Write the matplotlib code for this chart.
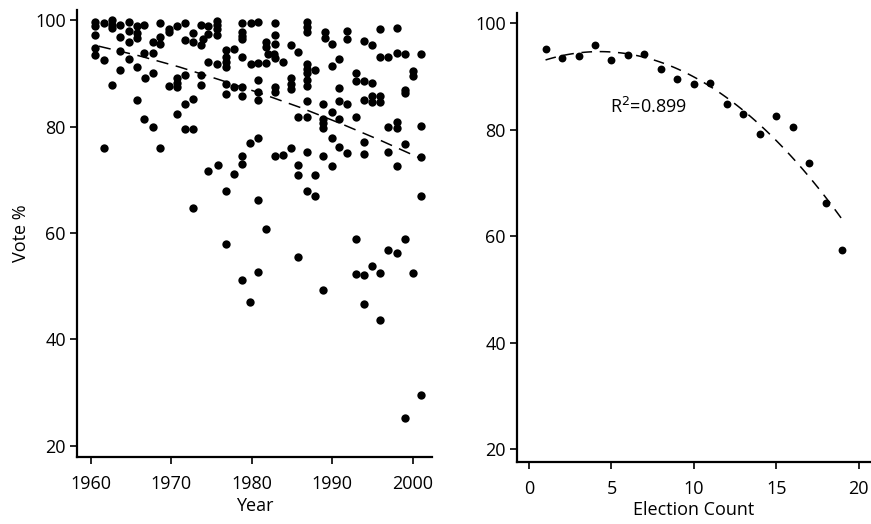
import numpy as np
import matplotlib.pyplot as plt

plt.rcParams['font.family'] = ['Open Sans', 'DejaVu Sans']

# left panel: vote % of each election, by year
years = [
    1960.5, 1960.5, 1960.5, 1961.6, 1962.6, 1962.6, 1962.6, 1963.6, 1964.7, 1964.7,
    1965.7, 1965.7, 1965.7, 1966.6, 1968.6, 1969.7, 1963.6, 1964.7, 1967.7, 1968.6,
    1968.6, 1960.5, 1960.5, 1961.6, 1963.6, 1964.7, 1966.6, 1967.7, 1963.7, 1965.7,
    1966.7, 1967.7, 1962.6, 1969.7, 1965.7, 1966.6, 1967.7, 1961.6, 1968.6,
    1969.7, 1970.7, 1971.7, 1971.7, 1972.7, 1972.7, 1973.7, 1973.7, 1974.6, 1974.6,
    1974.0, 1975.7, 1975.7, 1975.7, 1975.7, 1978.8, 1978.8, 1978.8, 1978.8, 1979.9,
    1976.8, 1976.8, 1976.8, 1976.8, 1977.8, 1978.8, 1979.9, 1974.6, 1975.7, 1970.7,
    1970.7, 1970.7, 1971.7, 1973.7, 1973.7, 1976.8, 1976.8, 1977.8, 1978.8, 1978.8,
    1972.7, 1971.7, 1970.7, 1971.7, 1972.7, 1979.8, 1978.8, 1978.8, 1975.8, 1974.6,
    1977.8,
    1980.8, 1982.9, 1986.9, 1986.9, 1986.9, 1989.1, 1989.1, 1990.0, 1982.9, 1982.9,
    1981.8, 1981.8, 1982.0, 1982.8, 1982.9, 1983.9, 1984.9, 1985.8, 1980.8, 1981.8,
    1986.9, 1986.9, 1986.9, 1987.9, 1990.0, 1990.8, 1980.8, 1984.9, 1984.9, 1984.9,
    1986.9, 1986.9, 1990.8, 1980.8, 1980.8, 1982.9, 1982.9, 1986.9, 1988.8, 1990.8,
    1985.8, 1986.9, 1988.8, 1988.8, 1988.8, 1990.0, 1990.8, 1980.8, 1982.9, 1983.9,
    1984.9, 1986.9, 1988.8, 1990.0, 1990.8, 1985.8, 1990.0, 1985.8, 1987.9,
    1991.9, 1991.9, 1996.0, 1998.0, 1994.0, 1994.9, 1996.0, 1996.9, 1998.0, 1999.0,
    2001.0, 1992.9, 1992.9, 1994.0, 1994.9, 2000.0, 2000.0, 1999.0, 1999.0, 1991.9,
    1994.0, 1994.9, 1994.9, 1996.0, 1996.0, 1992.9, 1996.9, 1998.0, 1998.0, 2001.0,
    1994.0, 1991.9, 1994.0, 1996.9, 1999.0, 2001.0, 1998.0,
    1976.8, 1980.8, 1972.7, 1986.9, 1987.9, 2001.0, 1981.8, 1976.8, 1992.9, 1999.0,
    1996.9, 1998.0, 1985.8, 1980.8, 1978.8, 1992.9, 1994.0, 1994.9, 1996.0, 2000.0,
    1988.9, 1979.8, 1994.0, 1996.0, 2001.0, 1999.0,
]
votes = [
    99.7, 98.9, 97.2, 99.5, 100.0, 99.1, 98.6, 99.1, 99.7, 98.0,
    98.9, 97.5, 96.6, 99.1, 99.5, 98.4, 96.9, 95.8, 95.9, 96.9,
    95.6, 94.7, 93.4, 92.5, 94.2, 92.7, 93.9, 93.9, 90.6, 91.2,
    89.2, 90.0, 87.8, 87.6, 85.0, 81.5, 80.0, 75.9, 75.9,
    97.7, 98.9, 99.4, 96.2, 97.6, 95.9, 99.1, 95.3, 98.9, 97.4,
    96.4, 99.9, 99.1, 98.3, 97.2, 99.4, 97.8, 97.0, 96.4, 99.4,
    94.4, 93.1, 92.2, 91.2, 94.5, 93.1, 91.7, 92.2, 91.7, 89.1,
    88.2, 87.4, 89.7, 89.7, 87.8, 88.0, 86.1, 87.5, 87.5, 85.7,
    85.1, 84.2, 82.3, 79.5, 79.5, 77.0, 74.5, 73.0, 72.8, 71.6,
    71.1,
    99.7, 99.5, 99.7, 98.7, 97.8, 97.8, 96.6, 95.6, 97.2, 95.6,
    95.9, 94.9, 93.7, 93.6, 92.9, 92.2, 95.3, 94.0, 91.9, 91.9,
    91.7, 90.9, 90.0, 90.7, 91.4, 92.6, 88.7, 89.1, 88.0, 87.0,
    88.7, 87.6, 87.2, 86.5, 85.0, 87.5, 86.5, 84.8, 84.2, 84.8,
    81.7, 81.8, 81.4, 80.6, 79.8, 82.7, 81.5, 77.8, 74.5, 74.6,
    76.0, 75.3, 74.5, 77.8, 76.2, 72.8, 72.5, 70.8, 70.8,
    98.0, 96.4, 98.4, 98.6, 96.1, 95.4, 93.1, 93.1, 93.9, 93.6,
    93.6, 90.0, 88.6, 88.6, 88.2, 90.4, 89.5, 86.9, 86.3, 84.2,
    85.0, 85.7, 84.7, 85.7, 84.7, 81.8, 80.0, 80.9, 79.7, 80.1,
    77.1, 75.0, 74.8, 75.3, 76.7, 74.3, 72.5,
    67.9, 66.2, 64.6, 67.9, 67.0, 67.0, 60.7, 57.9, 58.9, 58.9,
    56.8, 56.3, 55.4, 52.6, 51.2, 52.3, 52.1, 53.7, 52.4, 52.4,
    49.3, 47.1, 46.7, 43.7, 29.6, 25.2,
]
# dashed trend
trend_years = [1961, 1966, 1971, 1976, 1981, 1986, 1991, 1996, 2001]
trend_votes = [95.1, 93.3, 91.2, 88.8, 86.3, 83.6, 80.6, 77.4, 74.0]

# right panel: mean vote % by election count
election_count = list(range(1, 20))
count_votes = [95.1, 93.4, 93.9, 95.9, 93.1, 94.0, 94.3, 91.4, 89.5, 88.5,
               88.7, 84.9, 82.9, 79.2, 82.5, 80.6, 73.7, 66.3, 57.5]
r2_text = 'R$^2$=0.899'

fig = plt.figure(figsize=(8.71, 5.24), dpi=100)
ax1 = fig.add_axes([0.0884, 0.1279, 0.4076, 0.853])
ax2 = fig.add_axes([0.5936, 0.118, 0.405, 0.857])

ax1.scatter(years, votes, s=36, c='black', linewidths=0)
ax1.plot(trend_years, trend_votes, color='black', lw=1.1, linestyle=(0, (8, 5)))
ax1.set_xlim(1958.3, 2002.4)
ax1.set_ylim(17.9, 101.9)
ax1.set_xticks([1960, 1970, 1980, 1990, 2000])
ax1.set_yticks([20, 40, 60, 80, 100])
ax1.set_xlabel('Year', fontsize=13, labelpad=3)
ax1.set_ylabel('Vote %', fontsize=13, labelpad=4)

# quadratic fit of the right-hand series
coef = np.polyfit(election_count, count_votes, 2)
fit_x = np.linspace(1, 19, 100)
ax2.scatter(election_count, count_votes, s=32, c='black', linewidths=0)
ax2.plot(fit_x, np.polyval(coef, fit_x), color='black', lw=1.1, linestyle=(0, (7, 5)))
ax2.text(4.9, 84.2, r2_text, fontsize=13, va='center', ha='left')
ax2.set_xlim(-0.73, 20.67)
ax2.set_ylim(17.6, 101.9)
ax2.set_xticks([0, 5, 10, 15, 20])
ax2.set_yticks([20, 40, 60, 80, 100])
ax2.set_xlabel('Election Count', fontsize=13, labelpad=2)

for ax in (ax1, ax2):
    ax.spines['top'].set_visible(False)
    ax.spines['right'].set_visible(False)
    ax.spines['left'].set_linewidth(1.6)
    ax.spines['bottom'].set_linewidth(1.6)
    ax.tick_params(direction='out', length=5, width=1.2, labelsize=13, pad=3)
    ax.tick_params(axis='x', pad=8)

fig.savefig('out.png', dpi=100)
